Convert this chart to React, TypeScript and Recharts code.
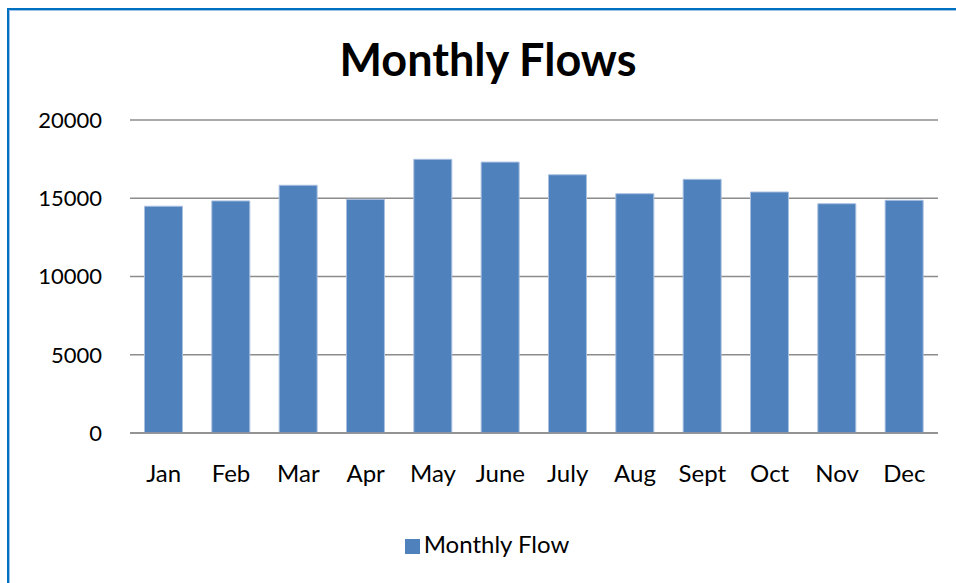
import React from 'react';
import {
  BarChart,
  Bar,
  XAxis,
  YAxis,
  CartesianGrid,
  Legend
} from 'recharts';

const months = ['Jan', 'Feb', 'Mar', 'Apr', 'May', 'June', 'July', 'Aug', 'Sept', 'Oct', 'Nov', 'Dec'];
const monthlyFlow = [14490, 14830, 15830, 14930, 17490, 17310, 16500, 15290, 16210, 15400, 14650, 14870];
const yTicks = [0, 5000, 10000, 15000, 20000];

const data = months.map((m, i) => ({ month: m, flow: monthlyFlow[i] }));

const FONT = 'Lato, "Open Sans", sans-serif';
const BAR_COLOR = '#4F81BD';
const GRID_COLOR = '#8C8C8C';

export default function App() {
  return (
    <div
      style={{
        position: 'fixed',
        left: 0,
        top: 0,
        width: 956,
        height: 583,
        overflow: 'hidden',
        background: '#fff',
        fontFamily: FONT
      }}
    >
      {/* frame, right and bottom edges fall outside the picture */}
      <div
        style={{
          position: 'absolute',
          left: 7,
          top: 8,
          width: 1000,
          height: 600,
          borderLeft: '2px solid #0070C0',
          borderTop: '2px solid #0070C0',
          boxShadow: 'inset 1px 1px 0 #9CC3E6'
        }}
      />
      <div
        style={{
          position: 'absolute',
          left: 0,
          top: 28,
          width: 976,
          textAlign: 'center',
          fontSize: 45,
          fontWeight: 700,
          color: '#000',
          lineHeight: '62px'
        }}
      >
        Monthly Flows
      </div>
      <div style={{ position: 'absolute', left: 0, top: 0 }}>
        <BarChart
          width={956}
          height={583}
          data={data}
          margin={{ top: 120, right: 18, left: 0, bottom: 16 }}
          barCategoryGap="21.5%"
        >
          <CartesianGrid vertical={false} stroke={GRID_COLOR} strokeWidth={1.5} />
          <XAxis
            dataKey="month"
            height={96}
            axisLine={{ stroke: GRID_COLOR, strokeWidth: 1.5 }}
            tickLine={false}
            tickSize={0}
            tickMargin={32}
            tick={{ fontSize: 24, fill: '#000', fontFamily: FONT }}
            interval={0}
          />
          <YAxis
            width={130}
            domain={[0, 20000]}
            ticks={yTicks}
            axisLine={false}
            tickLine={false}
            tickSize={0}
            tickMargin={28}
            tick={{ fontSize: 22, fill: '#000', fontFamily: FONT }}
          />
          <Legend
            verticalAlign="bottom"
            height={38}
            iconType="square"
            iconSize={15}
            wrapperStyle={{ fontFamily: FONT, fontSize: 24, width: 956, left: 14 }}
            formatter={(value) => <span style={{ color: '#000' }}>{value}</span>}
          />
          <Bar
            dataKey="flow"
            name="Monthly Flow"
            fill={BAR_COLOR}
            stroke="#A9C0E0"
            strokeWidth={1}
            isAnimationActive={false}
          />
        </BarChart>
      </div>
    </div>
  );
}
